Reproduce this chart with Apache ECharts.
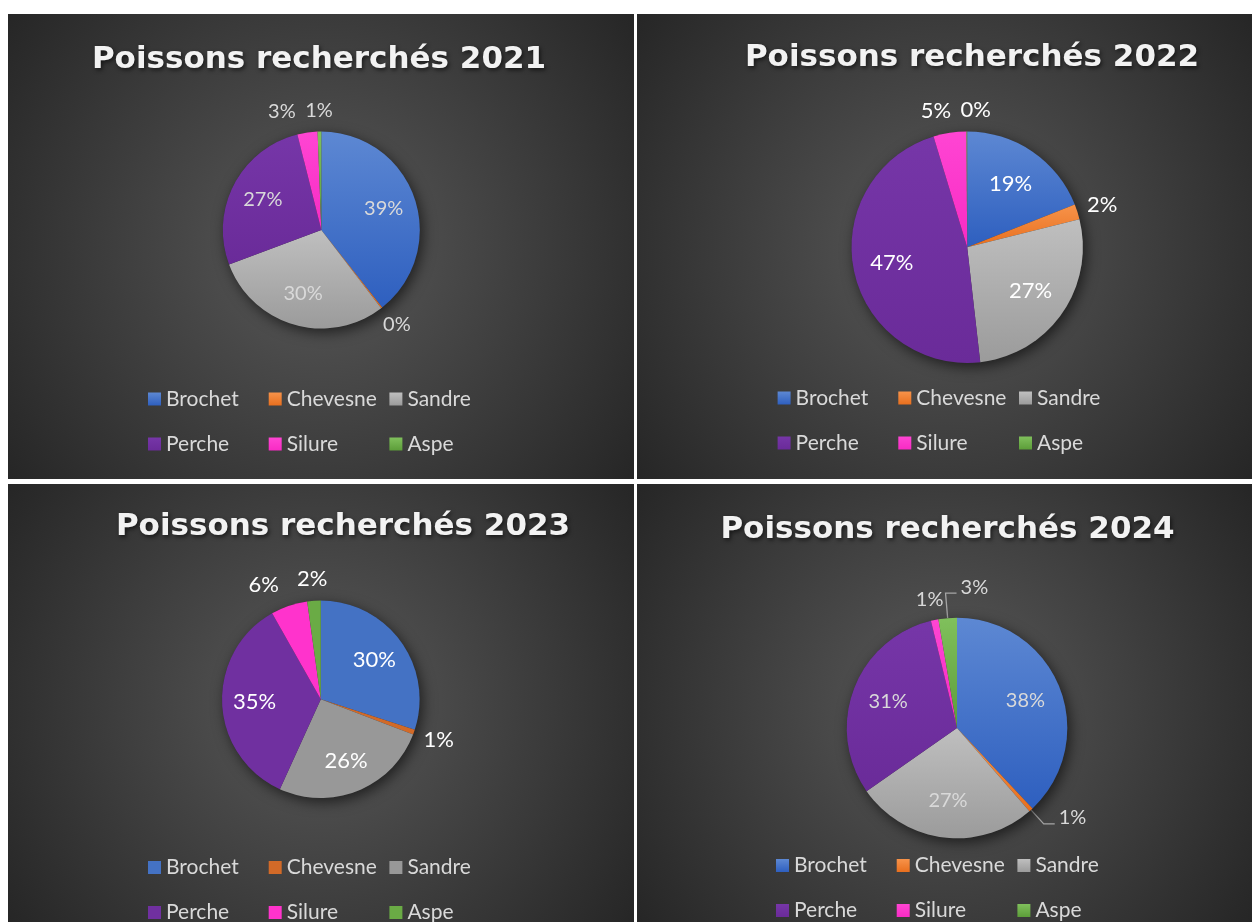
<!DOCTYPE html>
<html>
<head>
<meta charset="utf-8">
<script src="https://cdn.jsdelivr.net/npm/echarts@6/dist/echarts.min.js"></script>
<style>
html, body { margin: 0; padding: 0; background: #ffffff; width: 1252px; height: 922px; overflow: hidden; }
.panel { position: absolute; background: radial-gradient(circle farthest-corner at 50% 50%, #595959 0%, #262626 100%); }
</style>
</head>
<body>
<div id="c0" class="panel" style="left:8px;top:14px;width:626px;height:465px"></div>
<div id="c1" class="panel" style="left:637px;top:14px;width:615px;height:465px"></div>
<div id="c2" class="panel" style="left:8px;top:484px;width:626px;height:438px"></div>
<div id="c3" class="panel" style="left:637px;top:484px;width:615px;height:438px"></div>
<script>
// ---- Data ----
const categories = ['Brochet', 'Chevesne', 'Sandre', 'Perche', 'Silure', 'Aspe'];
const titleText = 'Poissons recherchés';
const years = ['2021', '2022', '2023', '2024'];
const values2021 = [39.4, 0.2, 29.7, 26.8, 3.3, 0.6];
const values2022 = [19.0, 2.1, 27.1, 47.1, 4.6, 0.1];
const values2023 = [30.0, 0.8, 26.0, 35.0, 6.0, 2.2];
const values2024 = [38.0, 0.6, 26.7, 30.9, 1.1, 2.7];

// ---- Styles ----
const gradTop = ['#5d88d3', '#f7934a', '#bfbfbf', '#7636a8', '#ff45d3', '#80c05c'];
const gradBottom = ['#2e5fbf', '#e86f1e', '#9b9b9b', '#6a2b99', '#f82bc4', '#5c9d39'];
const flatColors = ['#4472c4', '#d26a28', '#989898', '#7030a0', '#ff33cc', '#6aab45'];
const outerGap = 11;
const legendColPitch = 120.7;
const legendRowGap = 24;

const panels = [
  { el: 'c0', values: values2021, year: years[0], cx: 313.3, cy: 216, r: 98.5, titleX: 311, titleY: 30.5, legendX: 140, legendY: 374.5, gradient: true, labelColor: '#d9d9d9', labelSize: 20, leaders: [], shifts: { 4: -22 } },
  { el: 'c1', values: values2022, year: years[1], cx: 330.2, cy: 233.2, r: 115.7, titleX: 335, titleY: 28.3, legendX: 140.6, legendY: 373.5, gradient: true, labelColor: '#ffffff', labelSize: 22, leaders: [], shifts: { 4: -10, 5: 9 } },
  { el: 'c2', values: values2023, year: years[2], cx: 312.8, cy: 215.3, r: 98.8, titleX: 335, titleY: 27, legendX: 140, legendY: 373, gradient: false, labelColor: '#ffffff', labelSize: 22, leaders: [], shifts: { 4: -17 } },
  { el: 'c3', values: values2024, year: years[3], cx: 320, cy: 244, r: 110.3, titleX: 310.5, titleY: 30.8, legendX: 139, legendY: 371, gradient: true, labelColor: '#d9d9d9', labelSize: 20, leaders: [1, 5], shifts: {} }
];

function pct(p) { return Math.round(p.percent) + '%'; }

function makeLegend(names, left, top) {
  return {
    data: names, orient: 'vertical',
    left: left, top: top, height: 120, padding: 0,
    itemWidth: 13, itemHeight: 13, itemGap: legendRowGap, icon: 'rect',
    selectedMode: false,
    textStyle: { fontSize: 21, fontFamily: 'Lato', color: '#d9d9d9' }
  };
}

panels.forEach(function (cfg) {
  const chart = echarts.init(document.getElementById(cfg.el), null, { renderer: 'canvas' });
  const colorOf = function (i) {
    return cfg.gradient ? {
      type: 'linear', x: 0, y: 0, x2: 0, y2: 1,
      colorStops: [{ offset: 0, color: gradTop[i] }, { offset: 1, color: gradBottom[i] }]
    } : flatColors[i];
  };
  const isBig = cfg.values.map(function (v) { return v >= 10; });
  const isLeader = categories.map(function (_, i) { return cfg.leaders.indexOf(i) >= 0; });
  const labelBase = { color: cfg.labelColor, fontSize: cfg.labelSize, fontFamily: 'Lato', formatter: pct };
  const center = [cfg.cx, cfg.cy];

  const option = {
    backgroundColor: 'transparent',
    animation: false,
    title: {
      text: titleText + ' ' + cfg.year,
      left: cfg.titleX, top: cfg.titleY, textAlign: 'center', padding: 0,
      textStyle: {
        fontFamily: 'DejaVu Sans', fontWeight: 'bold', fontSize: 31, color: '#f2f2f2',
        textShadowColor: 'rgba(0,0,0,0.6)', textShadowBlur: 4, textShadowOffsetX: 1.5, textShadowOffsetY: 2
      }
    },
    legend: [
      makeLegend([categories[0], categories[3]], cfg.legendX, cfg.legendY),
      makeLegend([categories[1], categories[4]], cfg.legendX + legendColPitch, cfg.legendY),
      makeLegend([categories[2], categories[5]], cfg.legendX + 2 * legendColPitch, cfg.legendY)
    ],
    series: [
      {
        name: 'ombre', type: 'pie', silent: true, radius: cfg.r, center: center,
        data: [{ value: 1, name: 'ombre' }],
        itemStyle: { color: '#333333', borderWidth: 0, shadowBlur: 14, shadowOffsetX: 3, shadowOffsetY: 4, shadowColor: 'rgba(0,0,0,0.6)' },
        label: { show: false }, labelLine: { show: false }, emphasis: { disabled: true }
      },
      {
        name: 'Poissons', type: 'pie', silent: true, radius: cfg.r, center: center,
        startAngle: 90, clockwise: true,
        itemStyle: { borderWidth: 0 },
        label: Object.assign({ show: false, position: 'outside' }, labelBase),
        labelLine: { show: false, smooth: false, lineStyle: { color: '#a6a6a6', width: 1.3 } },
        emphasis: { disabled: true },
        data: categories.map(function (name, i) {
          return {
            name: name, value: cfg.values[i],
            itemStyle: { color: colorOf(i) },
            label: { show: isLeader[i] },
            labelLine: { show: isLeader[i], length: i === 5 ? 25 : 19, length2: 11 }
          };
        }),
        labelLayout: function (p) {
          if (!p.labelLinePoints) return {};
          const pts = p.labelLinePoints;
          const a = pts[0], b = pts[1], c = pts[2];
          if (p.dataIndex === 5) {
            const x3 = b[0] + Math.abs(c[0] - b[0]);
            return { x: x3 + 4, y: c[1] - 6, align: 'left', labelLinePoints: [a, b, [x3, c[1]]] };
          }
          return { x: c[0] + 4, y: c[1] - 6, align: 'left', labelLinePoints: [a, b, c] };
        }
      },
      {
        name: 'etiquettes', type: 'pie', silent: true, radius: cfg.r * 1.28, center: center,
        startAngle: 90, clockwise: true,
        itemStyle: { color: 'rgba(0,0,0,0)', borderWidth: 0 },
        label: Object.assign({ position: 'inside' }, labelBase),
        labelLine: { show: false }, emphasis: { disabled: true },
        data: categories.map(function (name, i) {
          return { name: name, value: cfg.values[i], label: { show: isBig[i] } };
        })
      },
      {
        name: 'etiquettesExt', type: 'pie', silent: true, radius: [cfg.r, cfg.r * 1.5], center: center,
        startAngle: 90, clockwise: true,
        itemStyle: { color: 'rgba(0,0,0,0)', borderWidth: 0 },
        label: Object.assign({ position: 'inside' }, labelBase),
        labelLine: { show: false }, emphasis: { disabled: true },
        data: categories.map(function (name, i) {
          return { name: name, value: cfg.values[i], label: { show: !isBig[i] && !isLeader[i] } };
        }),
        labelLayout: function (p) {
          const rc = p.labelRect;
          const mx = rc.x + rc.width / 2, my = rc.y + rc.height / 2;
          let dx = mx - cfg.cx, dy = my - cfg.cy;
          const len = Math.sqrt(dx * dx + dy * dy) || 1;
          dx /= len; dy /= len;
          const R = cfg.r + outerGap;
          const shift = cfg.shifts[p.dataIndex] || 0;
          return {
            x: cfg.cx + dx * R + dx * rc.width / 2 + shift,
            y: cfg.cy + dy * R + dy * rc.height / 2,
            align: 'center', verticalAlign: 'middle'
          };
        }
      }
    ]
  };
  chart.setOption(option);
});
</script>
</body>
</html>
